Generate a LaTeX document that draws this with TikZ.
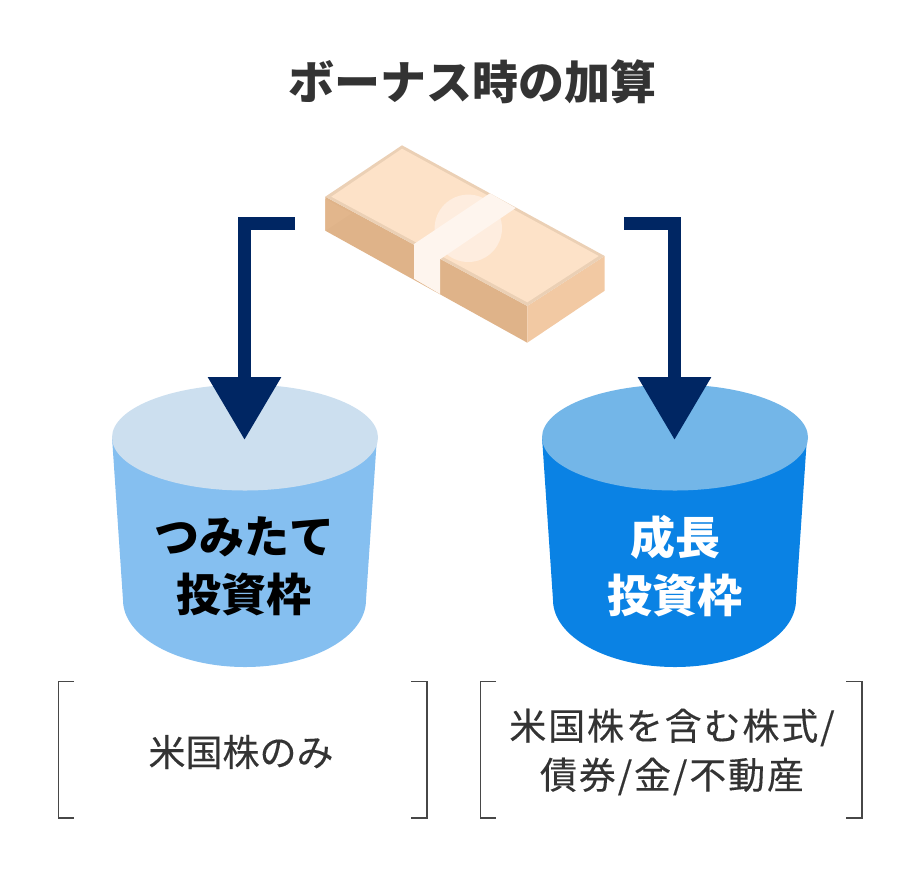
\documentclass[tikz,border=0pt]{standalone}
\usepackage{fontspec}
\setmainfont{Noto Sans CJK JP}
\usetikzlibrary{arrows.meta}
\definecolor{navy}{HTML}{002663}
\definecolor{ink}{HTML}{333333}
\definecolor{billtop}{HTML}{FDE2C8}
\definecolor{billrim}{HTML}{EBD0B5}
\definecolor{billfront}{HTML}{DFB389}
\definecolor{billfold}{HTML}{E2B68C}
\definecolor{billside}{HTML}{F2C9A3}
\definecolor{billband}{HTML}{FEF5EE}
\definecolor{billseal}{HTML}{FEEDDF}
\definecolor{palebody}{HTML}{85BFF0}
\definecolor{paletop}{HTML}{CCDFEF}
\definecolor{deepbody}{HTML}{0A82E4}
\definecolor{deeptop}{HTML}{73B6E8}
\tikzset{
  flowline/.style={draw=navy, line width=13pt, -{Triangle[length=63pt, width=70pt]}},
  bracketline/.style={draw=ink!90, line width=1.5pt},
  titletext/.style={text=ink, font=\fontsize{46}{50}\selectfont\bfseries},
  potlabel/.style={align=center, font=\fontsize{45}{58}\selectfont\bfseries},
  notetext/.style={text=ink, align=center, font=\fontsize{37}{49}\selectfont\addfontfeature{FakeBold=0.25}},
  widenote/.style={text=ink, align=center, font=\fontsize{37}{49}\selectfont\addfontfeature{FakeBold=0.25,LetterSpace=5}}
}
\begin{document}
\begin{tikzpicture}[x=1pt, y=-1pt]
  \useasboundingbox (0,0) rectangle (920,876);
  \node[titletext] (title) at (472,82) {ボーナス時の加算};

  \fill[billfront] (325.3,196.7) -- (527.3,306) -- (527.3,342.7) -- (325.3,230.7) -- cycle;
  \fill[billfold] (325.3,230.7) -- (351.7,213.3) -- (325.3,199) -- cycle;
  \fill[billside] (527.3,306) -- (604.7,256) -- (604.7,290.7) -- (527.3,342.7) -- cycle;
  \fill[billrim] (402,145.3) -- (604.7,256) -- (527.3,306) -- (325.3,196.7) -- cycle;
  \fill[billtop] (402,148.7) -- (598.7,256) -- (527.3,302.3) -- (331.3,196.7) -- cycle;
  \fill[billseal] (468.3,228.3) circle [radius=33.7pt];
  \fill[billband] (490,193.3) -- (515.7,208) -- (440,259.3) -- (440,294) -- (414,278.7) -- (414,244) -- cycle;

  \fill[palebody] (112,437) -- (123,600) .. controls (123,637) and (178,667) .. (245,667)
    .. controls (312,667) and (366,637) .. (366,600) -- (377,437) -- cycle;
  \fill[paletop] (245,437.5) ellipse [x radius=133pt, y radius=53pt];
  \fill[deepbody] (542,437) -- (553,600) .. controls (553,637) and (608,667) .. (675,667)
    .. controls (742,667) and (796,637) .. (796,600) -- (807,437) -- cycle;
  \fill[deeptop] (675,437.5) ellipse [x radius=133pt, y radius=53pt];

  \coordinate (billL) at (295,223.5);
  \coordinate (billR) at (624,223.5);
  \coordinate (potL) at (244.5,440);
  \coordinate (potR) at (674.5,440);
  \draw[flowline] (billL) -| (potL);
  \draw[flowline] (billR) -| (potR);

  \node[potlabel, text=black] (tsumitate) at (244,566) {つみたて\\投資枠};
  \node[potlabel, text=white] (seicho) at (675,566) {成長\\投資枠};

  \draw[bracketline] (74,681.5) -- (58.5,681.5) -- (58.5,818) -- (74,818);
  \draw[bracketline] (411,681.5) -- (427,681.5) -- (427,818) -- (411,818);
  \draw[bracketline] (496,681.5) -- (480.5,681.5) -- (480.5,818) -- (496,818);
  \draw[bracketline] (846,681.5) -- (862,681.5) -- (862,818) -- (846,818);

  \node[notetext] (noteL) at (241,752) {米国株のみ};
  \node[widenote] (noteR) at (672,752) {米国株を含む株式/\\債券/金/不動産};
\end{tikzpicture}
\end{document}
